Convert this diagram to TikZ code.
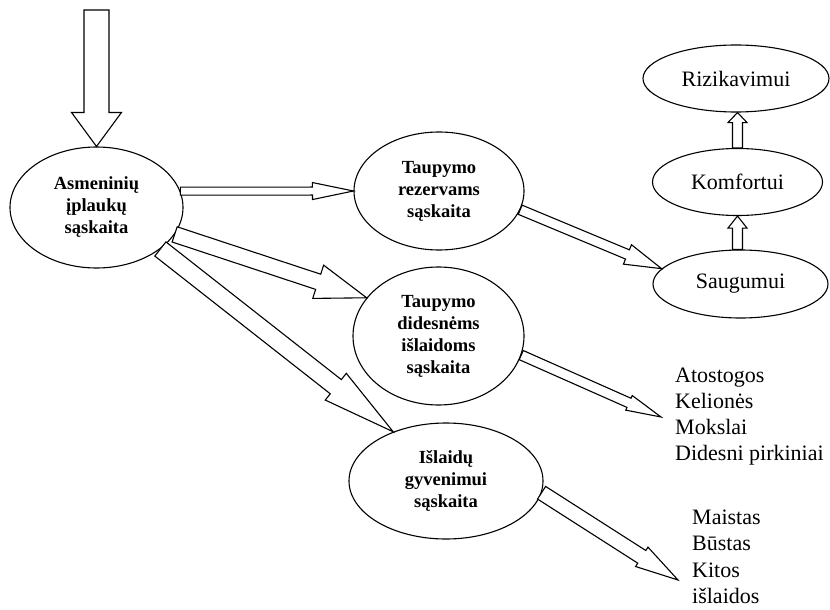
\documentclass[tikz,border=0pt]{standalone}
\usepackage{fontspec}
\setmainfont{Liberation Serif}
\usetikzlibrary{calc,shapes.geometric}

\tikzset{
  account/.style={ellipse, draw, line width=1.1pt, inner sep=0pt, align=center,
    font=\fontsize{18.5}{22}\selectfont\bfseries},
  level/.style={ellipse, draw, line width=1.1pt, inner sep=0pt,
    font=\fontsize{22}{26}\selectfont},
  item/.style={inner sep=0pt, anchor=base west, font=\fontsize{22}{26}\selectfont},
  blockline/.style={draw, fill=white, line width=1.1pt, line join=miter},
}

% Outlined block arrow: #1 tail, #2 tip, #3 half shaft width,
% #4 half head width, #5 head length
\newcommand\blockarrow[5]{%
  \path coordinate (ba-base) at ($(#2)!#5!(#1)$);
  \draw[blockline]
    ($(#1)!#3!90:(#2)$) -- ($(ba-base)!#3!90:(#2)$) -- ($(ba-base)!#4!90:(#2)$)
    -- (#2)
    -- ($(ba-base)!#4!-90:(#2)$) -- ($(ba-base)!#3!-90:(#2)$) -- ($(#1)!#3!-90:(#2)$)
    -- cycle;
}

\begin{document}
\begin{tikzpicture}[x=1pt,y=1pt]
\useasboundingbox (0,0) rectangle (830,-610);

% accounts
\node[account, minimum width=173, minimum height=121] (A) at (96.5,-207.5)
  {Asmeninių\\įplaukų\\sąskaita};
\node[account, minimum width=170, minimum height=118] (B) at (439,-191)
  {Taupymo\\rezervams\\sąskaita};
\node[account, minimum width=171, minimum height=138] (C) at (438.5,-336)
  {Taupymo\\didesnėms\\išlaidoms\\sąskaita};
\node[account, minimum width=194, minimum height=116] (D) at (446,-481)
  {Išlaidų\\gyvenimui\\sąskaita};

% reserve levels
\node[level, minimum width=186, minimum height=67] (R) at (736,-78.5) {Rizikavimui};
\node[level, minimum width=170, minimum height=67] (K) at (737.5,-182) {Komfortui};
\node[level, minimum width=175, minimum height=68] (S) at (740.5,-284) {Saugumui};

% spending items
\foreach \t [count=\i] in {Atostogos, Kelionės, Mokslai, Didesni pirkiniai}
  \node[item] (big-\i) at (675,-382-26*\i+26) {\t};
\foreach \t [count=\i] in {Maistas, Būstas, Kitos, išlaidos}
  \node[item] (live-\i) at (692,-524-26.5*\i+26.5) {\t};

% free ends
\coordinate (income) at (96.5,-10);
\coordinate (bigtip) at (661,-417);
\coordinate (livetip) at (678,-580);
\coordinate (SK) at (K.south |- S.north);
\coordinate (KR) at (K.north |- R.south);

% flows
\blockarrow{income}{A.north}{12.5pt}{25pt}{34pt}
\blockarrow{A.11}{B.west}{4pt}{8.5pt}{41pt}
\blockarrow{A.-19}{C.152}{8pt}{17.5pt}{51pt}
\blockarrow{A.-33}{D.137}{9pt}{17pt}{73pt}
\blockarrow{B.-13.5}{S.169}{5pt}{10.5pt}{37pt}
\blockarrow{C.-13}{bigtip}{5pt}{8pt}{35pt}
\blockarrow{D.-7}{livetip}{7.5pt}{11.5pt}{43pt}
\blockarrow{SK}{K.south}{5pt}{9.5pt}{12pt}
\blockarrow{K.north}{KR}{5pt}{9.5pt}{10pt}
\end{tikzpicture}
\end{document}
